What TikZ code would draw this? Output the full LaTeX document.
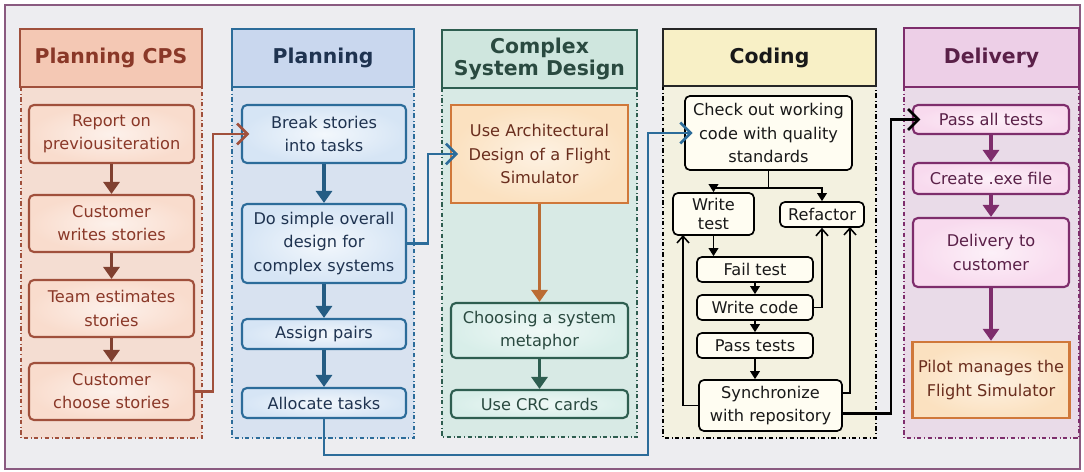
\documentclass[tikz,border=0pt]{standalone}
\usepackage{fontspec}
\setmainfont{DejaVu Sans}
\usetikzlibrary{arrows.meta}

\definecolor{backgr}{HTML}{EDEDF0}
\definecolor{frame}{HTML}{8A5A80}
\definecolor{cpsline}{HTML}{A0503C}
\definecolor{cpshead}{HTML}{F4C8B4}
\definecolor{cpslane}{HTML}{F4DDD2}
\definecolor{cpsfill}{HTML}{F9DCCD}
\definecolor{cpstext}{HTML}{8A3828}
\definecolor{plnline}{HTML}{2C6C9A}
\definecolor{plnhead}{HTML}{C9D7EE}
\definecolor{plnlane}{HTML}{D8E2F0}
\definecolor{plnfill}{HTML}{D6E5F5}
\definecolor{plntext}{HTML}{1F3350}
\definecolor{csdline}{HTML}{2E5E50}
\definecolor{csdhead}{HTML}{CFE6DE}
\definecolor{csdlane}{HTML}{D8EAE5}
\definecolor{csdfill}{HTML}{D8EEE9}
\definecolor{csdtext}{HTML}{2A4A40}
\definecolor{orgline}{HTML}{D0783A}
\definecolor{orgfill}{HTML}{FBE1C0}
\definecolor{orgtext}{HTML}{6A2E1E}
\definecolor{codhead}{HTML}{F8F0C6}
\definecolor{codlane}{HTML}{F3F1E0}
\definecolor{codfill}{HTML}{FFFDF2}
\definecolor{dlvline}{HTML}{7E2D6C}
\definecolor{dlvhead}{HTML}{EDCFE7}
\definecolor{dlvlane}{HTML}{E9DBE8}
\definecolor{dlvfill}{HTML}{F8DAEE}
\definecolor{dlvtext}{HTML}{5A2048}

\newcommand{\cardfont}{\fontsize{11.5}{16.5}\selectfont}
\newcommand{\headfont}{\fontsize{14.5}{15.5}\selectfont\bfseries}

\tikzset{
	head/.style={draw, line width=2pt, minimum height=1.45cm, align=center, font=\headfont},
	lane/.style={dash dot, line width=1pt},
	card/.style={draw, line width=1.5pt, rounded corners=3.5pt, align=center, font=\cardfont, inner sep=2pt},
	cps/.style={card, draw=cpsline, inner color=white!60!cpsfill, outer color=cpsfill, text=cpstext, minimum width=4.125cm},
	pln/.style={card, draw=plnline, inner color=white!70!plnfill, outer color=plnfill, text=plntext, minimum width=4.1cm},
	csd/.style={card, draw=csdline, inner color=white!60!csdfill, outer color=csdfill, text=csdtext, minimum width=4.425cm},
	cod/.style={card, draw=black, line width=1.2pt, fill=codfill, text=black!90},
	dlv/.style={card, draw=dlvline, inner color=white!60!dlvfill, outer color=dlvfill, text=dlvtext, minimum width=3.9cm},
	org/.style={card, rounded corners=0pt, line width=1.7pt, draw=orgline, inner color=white!55!orgfill, outer color=orgfill, text=orgtext},
	flow/.style={line width=2.2pt, -{Triangle[length=3mm,width=4mm]}},
	jump/.style={line width=1.9pt, shorten >=-6pt, -{Straight Barb[length=2.6mm,width=5.2mm,line width=1.9pt]}},
	tip/.style={line width=1.1pt, -{Triangle[length=2mm,width=2.4mm]}},
	back/.style={line width=1.1pt, -{Straight Barb[length=1.7mm,width=3mm,line width=1.1pt]}}
}

\begin{document}
\begin{tikzpicture}[x=0.025cm, y=-0.025cm]
		\useasboundingbox (0,0) rectangle (1084,472);
		\fill[white] (0,0) rectangle (1084,472);
		\draw[frame, line width=1.8pt, fill=backgr] (5,5) rectangle (1080,469);

		\draw[lane, draw=cpsline, fill=cpslane] (21,87) rectangle (202,438);
		\draw[lane, draw=plnline, fill=plnlane] (232,87) rectangle (414,438);
		\draw[lane, draw=csdline, fill=csdlane] (442,88) rectangle (637,437);
		\draw[lane, draw=black, fill=codlane] (663,86) rectangle (876,438);
		\draw[lane, draw=dlvline, fill=dlvlane] (904,87) rectangle (1079,438);

		\node (cpshead) at (111,58) [head, draw=cpsline, fill=cpshead, text=cpstext, minimum width=4.55cm] {Planning CPS};
		\node (plnhead) at (323,58) [head, draw=plnline, fill=plnhead, text=plntext, minimum width=4.55cm] {Planning};
		\node (csdhead) at (539.5,59) [head, draw=csdline, fill=csdhead, text=csdtext, minimum width=4.875cm] {Complex\\System Design};
		\node (codhead) at (769.5,57.5) [head, draw=black!85, fill=codhead, text=black!90, minimum width=5.325cm, minimum height=1.425cm] {Coding};
		\node (dlvhead) at (991.5,57.5) [head, draw=dlvline, fill=dlvhead, text=dlvtext, minimum width=4.375cm, minimum height=1.475cm] {Delivery};

		\node (rep) at (111.5,134) [cps, minimum height=1.45cm] {Report on\\previousiteration};
		\node (cwr) at (111.5,223.5) [cps, minimum height=1.425cm] {Customer\\writes stories};
		\node (tes) at (111.5,308.5) [cps, minimum height=1.425cm] {Team estimates\\stories};
		\node (cch) at (111.5,391.5) [cps, minimum height=1.425cm] {Customer\\choose stories};

		\node (bst) at (324,134) [pln, minimum height=1.45cm] {Break stories\\into tasks};
		\node (dso) at (324,243.5) [pln, minimum height=1.975cm] {Do simple overall\\design for\\complex systems};
		\node (asp) at (324,334) [pln, minimum height=0.75cm] {Assign pairs};
		\node (alt) at (324,403) [pln, minimum height=0.75cm] {Allocate tasks};

		\node (arc) at (539.5,154) [org, minimum width=4.425cm, minimum height=2.45cm] {Use Architectural\\Design of a Flight\\Simulator};
		\node (csm) at (539.5,330.5) [csd, minimum height=1.375cm] {Choosing a system\\metaphor};
		\node (crc) at (539.5,404) [csd, minimum height=0.7cm] {Use CRC cards};

		\node (chk) at (768.5,133) [cod, minimum width=4.175cm, minimum height=1.85cm] {Check out working\\code with quality\\standards};
		\node (wrt) at (713.5,214) [cod, minimum width=2.025cm, minimum height=1.05cm, inner sep=1pt, font=\fontsize{11.5}{13}\selectfont] {Write\\test};
		\node (ref) at (822,214.5) [cod, minimum width=2.1cm, minimum height=0.625cm, inner sep=1pt] {Refactor};
		\node (fal) at (755,269.5) [cod, minimum width=2.9cm, minimum height=0.625cm, inner sep=1pt] {Fail test};
		\node (wcd) at (755,307.5) [cod, minimum width=2.9cm, minimum height=0.625cm, inner sep=1pt] {Write code};
		\node (pst) at (755,345.5) [cod, minimum width=2.9cm, minimum height=0.625cm, inner sep=1pt] {Pass tests};
		\node (syn) at (770.5,405.5) [cod, minimum width=3.575cm, minimum height=1.275cm] {Synchronize\\with repository};

		\node (pat) at (991,119.5) [dlv, minimum height=0.725cm] {Pass all tests};
		\node (exe) at (991,178.5) [dlv, minimum height=0.775cm] {Create .exe file};
		\node (dtc) at (991,252.5) [dlv, minimum height=1.725cm] {Delivery to\\customer};
		\node (pil) at (991,380) [org, minimum width=3.925cm, minimum height=1.9cm] {Pilot manages the\\Flight Simulator};

		\draw[flow, cpsline!80!black] (rep.south) -- (cwr.north);
		\draw[flow, cpsline!80!black] (cwr.south) -- (tes.north);
		\draw[flow, cpsline!80!black] (tes.south) -- (cch.north);
		\draw[jump, cpsline] (cch.east) -- ++(18,0) |- (bst.west);

		\draw[flow, plnline!85!black] (bst.south) -- (dso.north);
		\draw[flow, plnline!85!black] (dso.south) -- (asp.north);
		\draw[flow, plnline!85!black] (asp.south) -- (alt.north);
		\draw[jump, plnline] (dso.east) -- ++(21,0) |- (arc.west);

		\draw[flow, orgline!90!black] (arc.south) -- (csm.north);
		\draw[flow, csdline] (csm.south) -- (crc.north);

		\coordinate (bend) at (648,455);
		\draw[jump, plnline] (alt.south) |- (bend) |- (chk.west);

		\coordinate (split) at (768.5,188);
		\coordinate (loopL) at (683,235);
		\coordinate (loopR) at (850,227);
		\draw[line width=1.1pt] (chk.south) -- (split);
		\draw[tip] (split) -| (wrt.north);
		\draw[tip] (split) -| (ref.north);
		\draw[tip] (wrt.south) -- (wrt.south |- fal.north);
		\draw[tip] (fal.south) -- (wcd.north);
		\draw[tip] (wcd.south) -- (pst.north);
		\draw[tip] (pst.south) -- (pst.south |- syn.north);
		\draw[back] (wcd.east) -| (ref.south);
		\draw[back] ([yshift=9pt]syn.east) -| (loopR);
		\draw[back] (syn.west) -| (loopL);
		\draw[jump, black] ([yshift=-5.5pt]syn.east) -- ++(48,0) |- (pat.west);

		\draw[flow, dlvline] (pat.south) -- (exe.north);
		\draw[flow, dlvline] (exe.south) -- (dtc.north);
		\draw[flow, dlvline] (dtc.south) -- (pil.north);
\end{tikzpicture}
\end{document}
